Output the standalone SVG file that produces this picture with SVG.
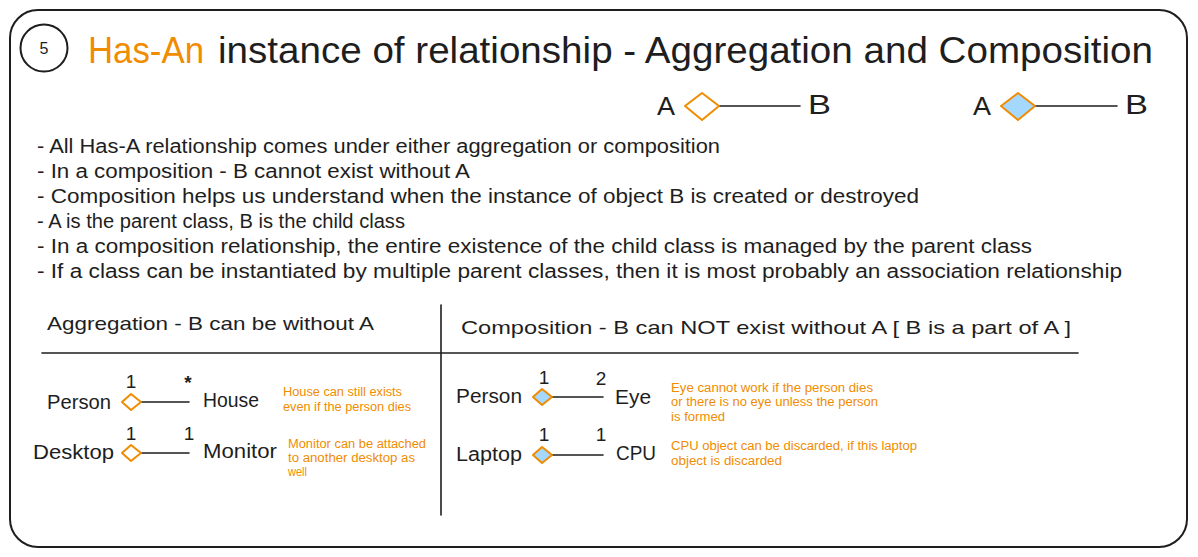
<svg xmlns="http://www.w3.org/2000/svg" width="1198" height="557" viewBox="0 0 1198 557">
  <style>
    text { font-family: "Liberation Sans", Arial, sans-serif; fill: #1e1e1e; }
    .title { font-size: 36px; }
    .bullet { font-size: 20px; }
    .head { font-size: 19px; }
    .lbl { font-size: 20px; }
    .mult { font-size: 19px; text-anchor: middle; }
    .note { font-size: 12px; fill: #f08c00; }
    .orange { fill: #f08c00; }
    .line { stroke: #1e1e1e; stroke-width: 1.6; fill: none; stroke-linecap: round; }
    .agg { fill: #ffffff; stroke: #f08c00; stroke-width: 2; stroke-linejoin: round; }
    .comp { fill: #a5d8ff; stroke: #f08c00; stroke-width: 2; stroke-linejoin: round; }
  </style>

  <rect width="1198" height="557" fill="#ffffff"/>

  <g id="frame">
    <rect x="10" y="10" width="1177" height="537" rx="28" ry="28" fill="none" stroke="#1e1e1e" stroke-width="2"/>
  </g>

  <g id="title">
    <circle cx="44" cy="48" r="23.5" fill="none" stroke="#1e1e1e" stroke-width="2"/>
    <text x="44" y="54" font-size="16" text-anchor="middle">5</text>
    <text class="title orange" x="88" y="63" textLength="116" lengthAdjust="spacingAndGlyphs">Has-An</text>
    <text class="title" x="218" y="63" textLength="935" lengthAdjust="spacingAndGlyphs">instance of relationship - Aggregation and Composition</text>
  </g>

  <g id="legend-aggregation">
    <text x="657" y="115" font-size="26" textLength="18" lengthAdjust="spacingAndGlyphs">A</text>
    <text x="808" y="114" font-size="27" textLength="23" lengthAdjust="spacingAndGlyphs">B</text>
  </g>
  <g id="legend-composition">
    <text x="973" y="115" font-size="26" textLength="18" lengthAdjust="spacingAndGlyphs">A</text>
    <text x="1125" y="114" font-size="27" textLength="23" lengthAdjust="spacingAndGlyphs">B</text>
  </g>

  <g id="bullets">
    <text class="bullet" x="37" y="153" textLength="683" lengthAdjust="spacingAndGlyphs">- All Has-A relationship comes under either aggregation or composition</text>
    <text class="bullet" x="37" y="178" textLength="433" lengthAdjust="spacingAndGlyphs">- In a composition - B cannot exist without A</text>
    <text class="bullet" x="37" y="203" textLength="882" lengthAdjust="spacingAndGlyphs">- Composition helps us understand when the instance of object B is created or destroyed</text>
    <text class="bullet" x="37" y="228" textLength="368" lengthAdjust="spacingAndGlyphs">- A is the parent class, B is the child class</text>
    <text class="bullet" x="37" y="253" textLength="995" lengthAdjust="spacingAndGlyphs">- In a composition relationship, the entire existence of the child class is managed by the parent class</text>
    <text class="bullet" x="37" y="278" textLength="1085" lengthAdjust="spacingAndGlyphs">- If a class can be instantiated by multiple parent classes, then it is most probably an association relationship</text>
  </g>

  <g id="table">
    <line class="line" x1="42" y1="353" x2="1078" y2="353"/>
    <line class="line" x1="441" y1="305" x2="441" y2="515"/>
    <text class="head" x="47" y="330" textLength="327" lengthAdjust="spacingAndGlyphs">Aggregation - B can be without A</text>
    <text class="head" x="461" y="334" textLength="610" lengthAdjust="spacingAndGlyphs">Composition - B can NOT exist without A [ B is a part of A ]</text>
  </g>

  <g id="person-house">
    <text class="lbl" x="47" y="409" textLength="64" lengthAdjust="spacingAndGlyphs">Person</text>
    <text class="lbl" x="203" y="407" textLength="56" lengthAdjust="spacingAndGlyphs">House</text>
    <text class="mult" x="131" y="388">1</text>
    <text class="mult" x="188" y="389" font-size="22" font-weight="bold">*</text>
    <text class="note" x="283" y="396" textLength="119" lengthAdjust="spacingAndGlyphs">House can still exists</text>
    <text class="note" x="283" y="411" textLength="128" lengthAdjust="spacingAndGlyphs">even if the person dies</text>
  </g>

  <g id="desktop-monitor">
    <text class="lbl" x="33" y="459" textLength="81" lengthAdjust="spacingAndGlyphs">Desktop</text>
    <text class="lbl" x="203" y="458" textLength="74" lengthAdjust="spacingAndGlyphs">Monitor</text>
    <text class="mult" x="131" y="440">1</text>
    <text class="mult" x="189" y="440">1</text>
    <text class="note" x="288" y="448" textLength="138" lengthAdjust="spacingAndGlyphs">Monitor can be attached</text>
    <text class="note" x="288" y="462" textLength="127" lengthAdjust="spacingAndGlyphs">to another desktop as</text>
    <text class="note" x="288" y="476" textLength="19" lengthAdjust="spacingAndGlyphs">well</text>
  </g>

  <g id="person-eye">
    <text class="lbl" x="456" y="403" textLength="66" lengthAdjust="spacingAndGlyphs">Person</text>
    <text class="lbl" x="615" y="404" textLength="36" lengthAdjust="spacingAndGlyphs">Eye</text>
    <text class="mult" x="544" y="384">1</text>
    <text class="mult" x="601" y="385">2</text>
    <text class="note" x="671" y="392" textLength="202" lengthAdjust="spacingAndGlyphs">Eye cannot work if the person dies</text>
    <text class="note" x="671" y="406" textLength="207" lengthAdjust="spacingAndGlyphs">or there is no eye unless the person</text>
    <text class="note" x="671" y="421" textLength="54" lengthAdjust="spacingAndGlyphs">is formed</text>
  </g>

  <g id="laptop-cpu">
    <text class="lbl" x="456" y="461" textLength="66" lengthAdjust="spacingAndGlyphs">Laptop</text>
    <text class="lbl" x="616" y="460" textLength="40" lengthAdjust="spacingAndGlyphs">CPU</text>
    <text class="mult" x="544" y="441">1</text>
    <text class="mult" x="601" y="441">1</text>
    <text class="note" x="671" y="450" textLength="246" lengthAdjust="spacingAndGlyphs">CPU object can be discarded, if this laptop</text>
    <text class="note" x="671" y="465" textLength="111" lengthAdjust="spacingAndGlyphs">object is discarded</text>
  </g>

  <g id="connectors">
    <line class="line" x1="711" y1="106" x2="800" y2="106"/>
    <path class="agg" d="M685 106 L702 93 L719 106 L702 120 Z"/>
    <line class="line" x1="1027" y1="106" x2="1117" y2="106"/>
    <path class="comp" d="M1001 106 L1018 93 L1035 106 L1018 120 Z"/>

    <line class="line" x1="137" y1="402" x2="189" y2="402"/>
    <path class="agg" d="M122 402 L131 394 L141 402 L131 410 Z"/>
    <line class="line" x1="137" y1="453" x2="189" y2="453"/>
    <path class="agg" d="M122 453 L131 445 L141 453 L131 461 Z"/>

    <line class="line" x1="547" y1="397" x2="603" y2="397"/>
    <path class="comp" d="M533 397 L542 389 L552 397 L542 405 Z"/>
    <line class="line" x1="547" y1="455" x2="603" y2="455"/>
    <path class="comp" d="M533 455 L542 447 L552 455 L542 463 Z"/>
  </g>
</svg>
